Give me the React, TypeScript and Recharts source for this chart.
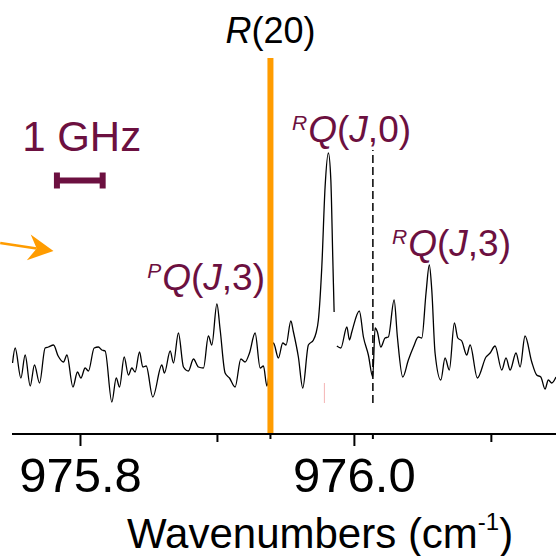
import { LineChart, Line, XAxis, YAxis, ReferenceLine, ReferenceDot } from 'recharts'

const FONT = '"Liberation Sans", Arial, sans-serif'
const MAROON = '#6c1040'
const ORANGE = '#ff9c00'

// spectrum trace (wavenumber in cm-1, signal in a.u.); null = gap in the trace
const wavenumbers = [
  975.7504, 975.7523, 975.7565, 975.7596, 975.7633, 975.7664, 975.7701, 975.7742, 975.7766, 975.7803,
  975.7837, 975.7876, 975.7901, 975.7945, 975.7978, 975.8003, 975.8034, 975.8058, 975.81, 975.8131,
  975.8156, 975.818, 975.8229, 975.8261, 975.8285, 975.8319, 975.835, 975.8375, 975.8399, 975.8431,
  975.8455, 975.848, 975.8528, 975.8594, 975.8613, 975.8655, 975.8679, 975.8715, 975.8752, 975.8788,
  975.8825, 975.8861, 975.8898, 975.8934, 975.8959, 975.8996, 975.902, 975.9056, 975.9088, 975.9129,
  975.9171, 975.9202, 975.9234, 975.9275, 975.9312, 975.9336, 975.9361, 975.9385, 975.9409, 975.9445,
  975.9477, 975.9501, 975.9536, 975.9555, 975.9591, 975.9623, 975.9664, 975.9701, 975.972, 975.9737,
  975.9762, 975.9786, 975.981, 975.9828, 975.9842, 975.9852, 975.9861, 975.9872, 975.9901, 975.9945,
  975.9964, 975.9981, 976.0036, 976.0066, 976.0102, 976.0134, 976.0151, 976.0168, 976.0193, 976.0224,
  976.0248, 976.029, 976.0314, 976.0353, 976.0394, 976.0431, 976.0467, 976.0492, 976.0523, 976.0547,
  976.0565, 976.0589, 976.0631, 976.0662, 976.0693, 976.073, 976.0755, 976.0784, 976.082, 976.0845,
  976.0898, 976.0961, 976.0991, 976.1027, 976.1076, 976.1107, 976.1137, 976.118, 976.121, 976.1246,
  976.1295, 976.1331, 976.1361, 976.1392, 976.1416, 976.1441, 976.1472,
]
const signal = [
  0.71, 0.86, 0.56, 0.79, 0.48, 0.69, 0.51, 0.86, 0.87, 0.89,
  0.78, 0.72, 0.79, 0.47, 0.62, 0.56, 0.66, 0.63, 0.86, 0.87,
  0.84, 0.83, 0.32, 0.56, 0.47, 0.77, 0.59, 0.66, 0.62, 0.82,
  0.67, 0.68, 0.37, 0.69, 0.61, 0.83, 0.71, 1.01, 0.67, 0.63,
  0.75, 0.67, 0.66, 0.98, 0.89, 1.3, 1.04, 0.61, 0.56, 0.47,
  0.75, 0.72, 0.81, 1.01, 0.66, 0.68, 0.48, 0.69, 0.91, 0.76,
  0.91, 0.89, 1.13, 1.02, 0.77, 0.46, 0.89, 0.94, 1.01, 1.14,
  1.67, 2.47, 2.81, 2.54, 1.77, 1.22, null, 0.88, 0.86, 1.07,
  0.94, 1.02, 1.23, 0.97, 0.79, 0.57, 1.06, 1.02, 0.87, 0.96,
  0.97, 1.34, 0.97, 0.57, 0.74, 0.87, 0.97, 0.96, 1.41, 1.69,
  1.44, 0.81, 0.54, 0.76, 0.64, 1.11, 0.96, 0.93, 0.79, 0.89,
  0.56, 0.77, 0.81, 0.88, 0.64, 0.76, 0.64, 0.81, 0.67, 0.98,
  0.72, 0.59, 0.57, 0.45, 0.54, 0.51, 0.57,
]

const majorTicks = [975.8, 976.0]
const tickLabels = ['975.8', '976.0']
const minorTicks = [975.9, 976.1]
const r20Line = 975.9387
const dashedLine = 976.0135
const markerTicks = [r20Line, dashedLine]
const allTicks = [...majorTicks, ...minorTicks, ...markerTicks].sort((a, b) => a - b)

const data = wavenumbers.map((w, i) => ({ w, s: signal[i] }))

const AxisTick = (props: any) => {
  const { x, y, payload } = props
  const v = payload.value
  const mi = majorTicks.findIndex((t) => Math.abs(t - v) < 1e-6)
  const isMinor = minorTicks.some((t) => Math.abs(t - v) < 1e-6)
  const len = mi >= 0 ? 12 : isMinor ? 8 : 5
  return (
    <g>
      <line x1={x} x2={x} y1={y} y2={y + len} stroke="#000" strokeWidth={2} />
      {mi >= 0 && (
        <text x={x} y={y + 58} textAnchor="middle" fontFamily={FONT} fontSize={49} fill="#000">
          {tickLabels[mi]}
        </text>
      )}
    </g>
  )
}

const QLabel = ({ cx, cy, sup, k }: any) => (
  <text x={cx} y={cy} fill={MAROON} fontFamily={FONT}>
    <tspan fontSize={21} fontStyle="italic" dy={-12}>{sup}</tspan>
    <tspan fontSize={37} fontStyle="italic" dy={12} dx={1}>Q</tspan>
    <tspan fontSize={37}>(</tspan>
    <tspan fontSize={37} fontStyle="italic">J</tspan>
    <tspan fontSize={37}>{`,${k})`}</tspan>
  </text>
)

const Arrow = (props: any) => {
  const { x1, y1, x2, y2 } = props
  const a = Math.atan2(y2 - y1, x2 - x1)
  const ux = Math.cos(a)
  const uy = Math.sin(a)
  const p = (l: number, w: number) => `${x2 + l * ux - w * uy},${y2 + l * uy + w * ux}`
  return (
    <g>
      <line x1={x1} y1={y1} x2={x2 - 17 * ux} y2={y2 - 17 * uy} stroke={ORANGE} strokeWidth={2.5} />
      <polygon points={`${p(0, 0)} ${p(-25, -13)} ${p(-17, 0)} ${p(-25, 13)}`} fill={ORANGE} />
    </g>
  )
}

const ScaleBar = (props: any) => {
  const { x1, y1, x2, y2 } = props
  return (
    <g stroke={MAROON} strokeWidth={6}>
      <line x1={x1} y1={y1} x2={x2} y2={y2} />
      <line x1={x1} y1={y1 - 8} x2={x1} y2={y1 + 8} />
      <line x1={x2} y1={y2 - 8} x2={x2} y2={y2 + 8} />
    </g>
  )
}

export default function App() {
  return (
    <div style={{ position: 'absolute', left: 0, top: 0, width: 556, height: 556, background: '#fff' }}>
      <LineChart width={556} height={556} data={data} margin={{ top: 0, right: 0, bottom: 0, left: 12 }}>
        <XAxis
          dataKey="w"
          type="number"
          domain={[975.75, 976.1472]}
          allowDataOverflow
          ticks={allTicks}
          interval={0}
          tick={<AxisTick />}
          tickLine={false}
          tickSize={0}
          tickMargin={0}
          height={122}
          axisLine={{ stroke: '#000', strokeWidth: 2 }}
          label={{
            content: (p: any) => (
              <text x={p.viewBox.x + 115} y={p.viewBox.y + 114} fontFamily={FONT} fontSize={42} fill="#000">
                Wavenumbers (cm
                <tspan fontSize={24} dy={-18}>-1</tspan>
                <tspan dy={18}>)</tspan>
              </text>
            ),
          }}
        />
        <YAxis hide type="number" domain={[0, 4.34]} allowDataOverflow />
        <Line
          dataKey="s"
          type="monotone"
          stroke="#000"
          strokeWidth={1.3}
          dot={false}
          connectNulls={false}
          isAnimationActive={false}
        />
        <ReferenceLine segment={[{ x: 975.9781, y: 0.31 }, { x: 975.9781, y: 0.51 }]} stroke="#f4b4b4" strokeWidth={1} />
        <ReferenceLine
          segment={[{ x: dashedLine, y: 0.31 }, { x: dashedLine, y: 2.84 }]}
          stroke="#000"
          strokeWidth={1.5}
          strokeDasharray="8 4"
        />
        <ReferenceLine segment={[{ x: r20Line, y: 0 }, { x: r20Line, y: 3.76 }]} stroke={ORANGE} strokeWidth={6} />
        <ReferenceLine
          segment={[{ x: 975.7414, y: 1.91 }, { x: 975.7803, y: 1.83 }]}
          ifOverflow="visible"
          shape={<Arrow />}
        />
        <ReferenceLine segment={[{ x: 975.7828, y: 2.535 }, { x: 975.8162, y: 2.535 }]} shape={<ScaleBar />} />
        <ReferenceDot
          x={r20Line}
          y={3.91}
          r={0}
          shape={(p: any) => (
            <text x={p.cx} y={p.cy} textAnchor="middle" fontFamily={FONT} fontSize={36} fill="#000">
              <tspan fontStyle="italic">R</tspan>(20)
            </text>
          )}
        />
        <ReferenceDot
          x={975.7574}
          y={2.83}
          r={0}
          shape={(p: any) => (
            <text x={p.cx} y={p.cy} fontFamily={FONT} fontSize={42} fill={MAROON}>
              1 GHz
            </text>
          )}
        />
        <ReferenceDot x={975.8487} y={1.44} r={0} shape={(p: any) => <QLabel {...p} sup="P" k="3" />} />
        <ReferenceDot x={975.9545} y={2.92} r={0} shape={(p: any) => <QLabel {...p} sup="R" k="0" />} />
        <ReferenceDot x={976.0275} y={1.78} r={0} shape={(p: any) => <QLabel {...p} sup="R" k="3" />} />
      </LineChart>
    </div>
  )
}
